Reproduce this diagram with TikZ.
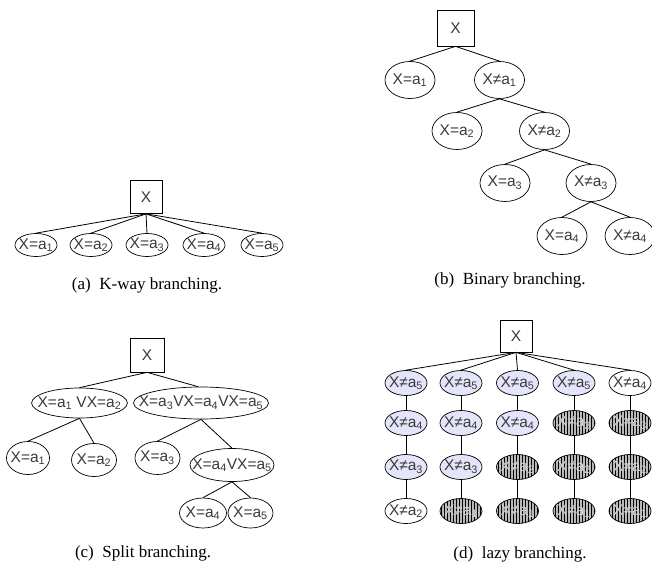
\documentclass[tikz,border=0pt]{standalone}
\usepackage{fontspec}
\setmainfont{Liberation Serif}
\newfontfamily\nodefont{Liberation Sans}
\usepackage{tikz}
\usetikzlibrary{shapes.geometric,patterns}
\definecolor{lazyfill}{HTML}{E4E4FA}
\definecolor{labtext}{HTML}{3A3A3A}

\tikzset{
  var/.style={draw, line width=0.7pt, minimum width=32, minimum height=33, inner sep=0,
    font=\nodefont\fontsize{15.5}{15.5}\selectfont, text=labtext},
  val/.style={draw, ellipse, line width=0.7pt, inner xsep=-4, inner ysep=0,
    minimum width=42, minimum height=23,
    font=\nodefont\fontsize{15.5}{15.5}\selectfont, text=labtext},
  kept/.style={val, minimum height=25, fill=lazyfill},
  open/.style={val, minimum height=25},
  pruned/.style={val, minimum height=25, fill=gray!55,
    postaction={pattern=vertical lines}, text=gray!35},
  capt/.style={font=\fontsize{17}{17}\selectfont},
  edge/.style={line width=0.8pt}
}
\newcommand{\eq}[1]{X=a\textsubscript{#1}}
\newcommand{\nq}[1]{X≠a\textsubscript{#1}}

\begin{document}
\begin{tikzpicture}[x=1pt,y=-1pt]
\useasboundingbox (0,0) rectangle (652,567);

%========================
% (a) K-way
%========================

\node[var] (Xa) at (146,197) {X};

\foreach \i/\x in {1/36,2/91,3/147,4/204,5/262}
{
    \node[val] (a\i) at (\x,245) {\eq{\i}};
    \draw[edge] (Xa.south) -- (a\i.north);
}

\node[capt] (capa) at (147,285) {(a)\ \ K-way branching.};

%========================
% (b) Binary
%========================

\tikzset{bin/.style={val, minimum width=50, minimum height=37, inner xsep=0}}

\node[var, minimum width=37, minimum height=36] (Xb) at (455.5,28) {X};

\node[bin] (b1) at (410,80) {\eq{1}};
\node[bin] (nb1) at (499.5,80) {\nq{1}};
\node[bin] (b2) at (457,131) {\eq{2}};
\node[bin] (nb2) at (544.5,131) {\nq{2}};
\node[bin] (b3) at (505,183) {\eq{3}};
\node[bin] (nb3) at (591,183) {\nq{3}};
\node[bin] (b4) at (562,236) {\eq{4}};
\node[bin] (nb4) at (630,236) {\nq{4}};

\draw[edge] (Xb.south) -- (b1.north);
\draw[edge] (Xb.south) -- (nb1.north);
\foreach \p/\c in {1/2,2/3,3/4}
{
    \draw[edge] (nb\p.south) -- (b\c.north);
    \draw[edge] (nb\p.south) -- (nb\c.north);
}

\node[capt] (capb) at (510,280) {(b)\ \ Binary branching.};

%========================
% (c) Split
%========================

\node[var, minimum width=34, minimum height=34] (Xc) at (147,355) {X};

\node[val, minimum width=89, minimum height=30, inner xsep=-8] (c12) at (79.5,403) {\eq{1} V\eq{2}};
\node[val, minimum width=135, minimum height=32, inner xsep=-17] (c345) at (201,403) {\eq{3}V\eq{4}V\eq{5}};
\node[val, minimum width=43, minimum height=33] (c1) at (28,458) {\eq{1}};
\node[val, minimum width=45, minimum height=33] (c2) at (94,460) {\eq{2}};
\node[val, minimum width=45, minimum height=33] (c3) at (157.5,458) {\eq{3}};
\node[val, minimum width=83, minimum height=33, inner xsep=-10] (c45) at (232,465) {\eq{4}V\eq{5}};
\node[val, minimum width=47, minimum height=30] (c4) at (203,513) {\eq{4}};
\node[val, minimum width=45, minimum height=30] (c5) at (250.5,513) {\eq{5}};

\draw[edge] (Xc.south) -- (c12.north);
\draw[edge] (Xc.south) -- (c345.100);
\draw[edge] (c12.south) -- (c1.north);
\draw[edge] (c12.south) -- (c2.north);
\draw[edge] (c345.south) -- (c3.north);
\draw[edge] (c345.south) -- (c45.north);
\draw[edge] (c45.south) -- (c4.north);
\draw[edge] (c45.south) -- (c5.north);

\node[capt] (capc) at (143,553) {(c)\ \ Split branching.};

%========================
% (d) lazy
%========================

\node[var, minimum height=32] (Xd) at (516,336) {X};

% colonne
\foreach \n/\x/\y/\s/\k in {
    11/406/383/kept/5, 12/406/423/kept/4, 13/406/467/kept/3, 14/406/511/open/2,
    21/461/383/kept/5, 22/461/423/kept/4, 23/461/467/kept/3, 24/461/511/pruned/1,
    31/517.5/383/kept/5, 32/517.5/423/kept/4, 33/517.5/467/pruned/2, 34/517.5/511/pruned/1,
    41/574/383/kept/5, 42/574/423/pruned/3, 43/574/467/pruned/2, 44/574/511/pruned/1,
    51/630/383/open/4, 52/630/423/pruned/3, 53/630/467/pruned/2, 54/630/511/pruned/1}
{
    \node[\s] (d\n) at (\x,\y) {\nq{\k}};
}

\foreach \c in {1,...,5}
{
    \draw[edge] (Xd.south) -- (d\c1.north);
    \foreach \r/\s in {1/2,2/3,3/4}
        \draw[edge] (d\c\r.south) -- (d\c\s.north);
}

\node[capt] (capd) at (520,554) {(d)\ \ lazy branching.};
\end{tikzpicture}
\end{document}
